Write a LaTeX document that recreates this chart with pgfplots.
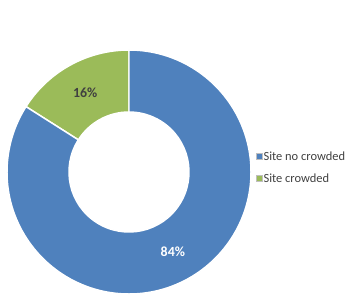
\documentclass[border=0pt]{standalone}
\usepackage{pgfplots}
\pgfplotsset{compat=1.18}
\usepackage{pgfplotstable}
\usepackage{fontspec}
\setmainfont{Carlito}
\definecolor{sblue}{HTML}{4F81BD}
\definecolor{sgreen}{HTML}{9BBB59}
\definecolor{ltext}{HTML}{404040}
\pgfplotstableread{
label value
{Site no crowded} 84
{Site crowded} 16
}\sitedata
\begin{document}
\begin{tikzpicture}
\pgfplotstablegetelem{0}{value}\of\sitedata \let\vA\pgfplotsretval
\pgfplotstablegetelem{1}{value}\of\sitedata \let\vB\pgfplotsretval
\pgfmathsetmacro\aB{90+3.6*\vB}
\pgfmathsetmacro\aBm{\aB-360}
\pgfmathsetmacro\mB{90+1.8*\vB}
\pgfmathsetmacro\mA{90-1.8*\vA}
\begin{axis}[x=1bp,y=1bp,xmin=0,xmax=350,ymin=0,ymax=297,
  hide axis,clip=false,scale only axis,
  legend style={at={(axis cs:253,129.5)},anchor=west,draw=none,fill=none,
    font=\fontsize{12.5}{15}\selectfont,text=ltext,row sep=10bp,
    nodes={inner sep=1pt}},
  legend cell align=left]
\coordinate (bl) at (axis cs:0,0);
\coordinate (tr) at (axis cs:350,297);
\begin{scope}[shift={(axis cs:129,125)}]
\filldraw[fill=sgreen,draw=white,line width=1.5pt]
  (90:122bp) arc[start angle=90,end angle=\aB,radius=122bp]
  -- (\aB:60bp) arc[start angle=\aB,end angle=90,radius=60bp] -- cycle;
\filldraw[fill=sblue,draw=white,line width=1.5pt]
  (90:122bp) arc[start angle=90,end angle=\aBm,radius=122bp]
  -- (\aBm:60bp) arc[start angle=\aBm,end angle=90,radius=60bp] -- cycle;
\node[font=\fontsize{14}{16}\selectfont\bfseries,text=ltext] at (\mB:91bp) {\vB\%};
\node[font=\fontsize{14}{16}\selectfont\bfseries,text=white] at (\mA:91bp) {\vA\%};
\end{scope}
\addlegendimage{legend image code/.code={\draw[fill=sblue,draw=gray!50,line width=0.4pt] (0bp,-3bp) rectangle (6bp,3bp);}}
\addlegendentry{Site no crowded}
\addlegendimage{legend image code/.code={\draw[fill=sgreen,draw=gray!50,line width=0.4pt] (0bp,-3bp) rectangle (6bp,3bp);}}
\addlegendentry{Site crowded}
\end{axis}
\pgfresetboundingbox
\path[use as bounding box] (bl) rectangle (tr);
\end{tikzpicture}
\end{document}
